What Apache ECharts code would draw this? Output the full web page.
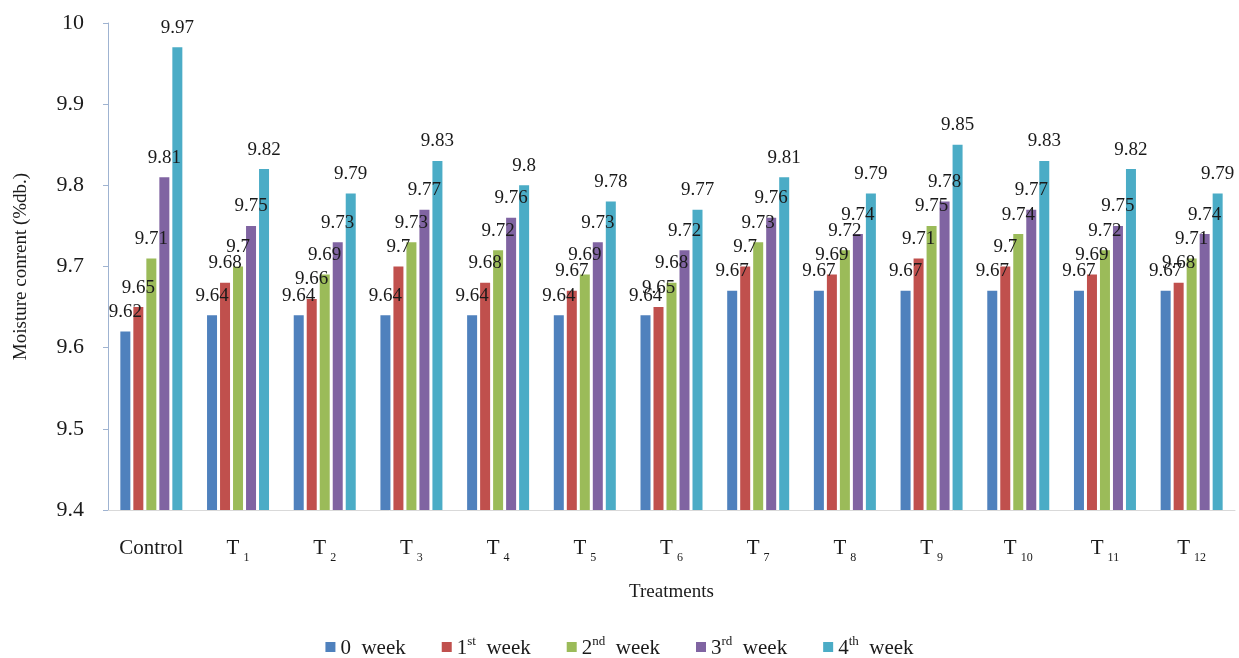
<!DOCTYPE html>
<html>
<head>
<meta charset="utf-8">
<script src="https://cdn.jsdelivr.net/npm/echarts@6/dist/echarts.min.js"></script>
<style>
  html, body { margin: 0; padding: 0; background: #ffffff; }
  #chart { width: 1239px; height: 658px; }
</style>
</head>
<body>
<div id="chart"></div>
<script>
// Treatments on the x axis (subscript number after "T")
const categories = ['Control', 'T1', 'T2', 'T3', 'T4', 'T5', 'T6', 'T7', 'T8', 'T9', 'T10', 'T11', 'T12'];

// Moisture content (% db.) per storage week
const week0 = [9.62, 9.64, 9.64, 9.64, 9.64, 9.64, 9.64, 9.67, 9.67, 9.67, 9.67, 9.67, 9.67];
const week1 = [9.65, 9.68, 9.66, 9.70, 9.68, 9.67, 9.65, 9.70, 9.69, 9.71, 9.70, 9.69, 9.68];
const week2 = [9.71, 9.70, 9.69, 9.73, 9.72, 9.69, 9.68, 9.73, 9.72, 9.75, 9.74, 9.72, 9.71];
const week3 = [9.81, 9.75, 9.73, 9.77, 9.76, 9.73, 9.72, 9.76, 9.74, 9.78, 9.77, 9.75, 9.74];
const week4 = [9.97, 9.82, 9.79, 9.83, 9.80, 9.78, 9.77, 9.81, 9.79, 9.85, 9.83, 9.82, 9.79];

const seriesNames = ['0 week', '1st week', '2nd week', '3rd week', '4th week'];
const seriesData = [week0, week1, week2, week3, week4];
const colors = ['#4f81bd', '#c0504d', '#9bbb59', '#8064a2', '#4bacc6'];

// Y axis range and step
const yMin = 9.4;
const yMax = 10;
const yStep = 0.1;

const serif = '"Liberation Serif", "DejaVu Serif", serif';

const chart = echarts.init(document.getElementById('chart'));

const series = seriesNames.map((name, i) => ({
  name: name,
  type: 'bar',
  data: seriesData[i],
  barWidth: 10,
  barGap: '30%',
  itemStyle: { color: colors[i] },
  label: {
    show: true,
    position: 'top',
    distance: 10,
    fontFamily: serif,
    fontSize: 19,
    color: '#1a1a1a',
    formatter: p => String(Number(p.value.toFixed(2)))
  }
}));

chart.setOption({
  backgroundColor: '#ffffff',
  animation: false,
  color: colors,
  grid: { left: 108, right: 4, top: 23, bottom: 148, containLabel: false, outerBoundsMode: 'none' },
  legend: {
    top: 630,
    left: 'center',
    icon: 'rect',
    itemWidth: 10,
    itemHeight: 10,
    itemGap: 36,
    textStyle: {
      fontFamily: serif,
      fontSize: 21,
      color: '#1a1a1a',
      rich: {
        n: { fontFamily: serif, fontSize: 21, color: '#1a1a1a', verticalAlign: 'bottom', lineHeight: 24 },
        sup: { fontFamily: serif, fontSize: 13, color: '#1a1a1a', verticalAlign: 'top', lineHeight: 24 }
      }
    },
    formatter: name => {
      const m = name.match(/^(\d)(st|nd|rd|th)?\s(.*)$/);
      if (m && m[2]) return '{n|' + m[1] + '}{sup|' + m[2] + '}{n|  ' + m[3] + '}';
      return '{n|' + m[1] + '  ' + m[3] + '}';
    },
    data: seriesNames
  },
  xAxis: {
    type: 'category',
    data: categories,
    name: 'Treatments',
    nameLocation: 'middle',
    nameGap: 73,
    nameTextStyle: { fontFamily: serif, fontSize: 19, color: '#1a1a1a' },
    axisLine: { show: true, lineStyle: { color: '#d9d9d9', width: 1 } },
    axisTick: { show: false },
    axisLabel: {
      margin: 28,
      interval: 0,
      fontFamily: serif,
      fontSize: 21,
      color: '#1a1a1a',
      rich: {
        t: { fontFamily: serif, fontSize: 21, color: '#1a1a1a', verticalAlign: 'top', lineHeight: 24 },
        sub: { fontFamily: serif, fontSize: 12, color: '#1a1a1a', verticalAlign: 'bottom', lineHeight: 26, padding: [0, 0, 0, 4] }
      },
      formatter: v => {
        const m = v.match(/^T(\d+)$/);
        if (m) return '{t|T}{sub|' + m[1] + '}';
        return '{t|' + v + '}';
      }
    }
  },
  yAxis: {
    type: 'value',
    min: yMin,
    max: yMax,
    interval: yStep,
    name: 'Moisture conrent (%db.)',
    nameLocation: 'middle',
    nameRotate: 90,
    nameGap: 77,
    nameTextStyle: { fontFamily: serif, fontSize: 19, color: '#1a1a1a' },
    axisLine: { show: true, lineStyle: { color: '#9fb3d1', width: 1 } },
    axisTick: { show: true, inside: false, length: 5, lineStyle: { color: '#9fb3d1' } },
    splitLine: { show: false },
    axisLabel: {
      margin: 24,
      fontFamily: serif,
      fontSize: 22,
      color: '#1a1a1a',
      formatter: v => String(Number(v.toFixed(1)))
    }
  },
  series: series
});
</script>
</body>
</html>
